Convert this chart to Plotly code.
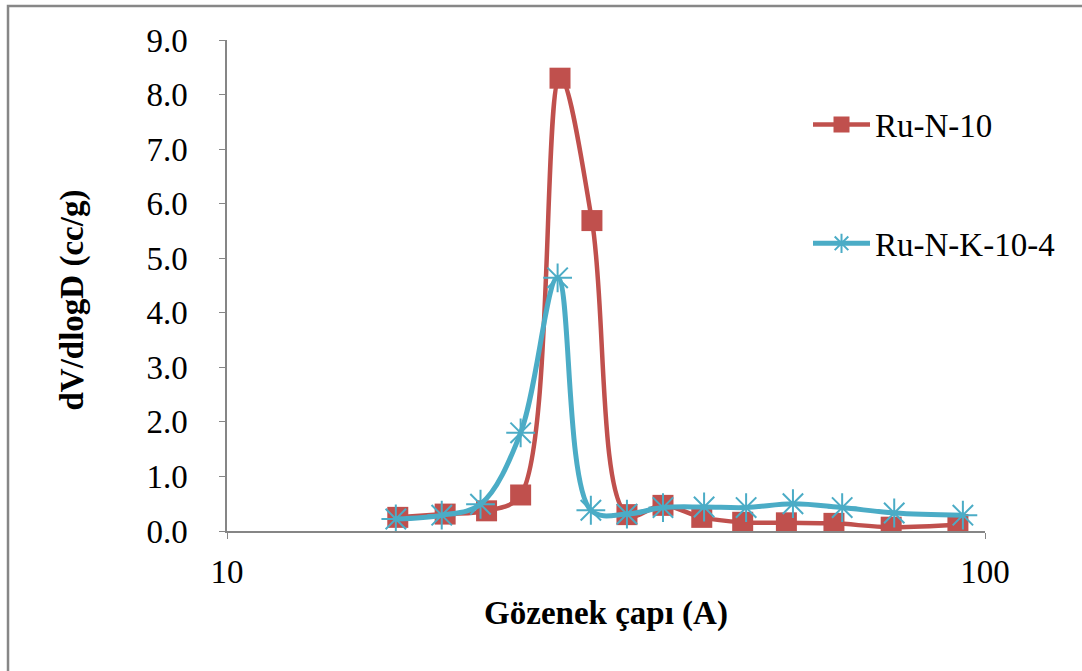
import plotly.graph_objects as go

# Pore size distribution (BJH), dV/dlogD vs pore diameter
ru_n_10_d = [16.8, 19.4, 22.0, 24.4, 27.5, 30.3, 33.7, 37.6, 42.3, 47.9, 54.7, 63.2, 75.2, 92.1]
ru_n_10_v = [0.25, 0.31, 0.37, 0.66, 8.30, 5.69, 0.30, 0.47, 0.25, 0.16, 0.15, 0.14, 0.07, 0.12]

ru_n_k_10_4_d = [16.7, 19.2, 21.6, 24.4, 27.3, 30.2, 33.7, 37.6, 42.6, 48.4, 55.8, 64.8, 75.9, 93.5]
ru_n_k_10_4_v = [0.22, 0.29, 0.49, 1.80, 4.64, 0.38, 0.31, 0.43, 0.44, 0.43, 0.50, 0.43, 0.33, 0.29]

y_ticks = [0, 1, 2, 3, 4, 5, 6, 7, 8, 9]
y_tick_text = ["0.0", "1.0", "2.0", "3.0", "4.0", "5.0", "6.0", "7.0", "8.0", "9.0"]
x_ticks = [10, 100]
x_tick_text = ["10", "100"]

RED = "#C0504D"
BLUE = "#4BACC6"
FONT = "Liberation Serif"
FS = 33

fig = go.Figure()

fig.add_trace(go.Scatter(
    x=ru_n_10_d, y=ru_n_10_v, name="Ru-N-10",
    mode="lines+markers", legendgroup="a",
    line=dict(color=RED, width=4.5, shape="spline", smoothing=1.0),
    marker=dict(symbol="square", size=21, color=RED),
))
fig.add_trace(go.Scatter(
    x=ru_n_k_10_4_d, y=ru_n_k_10_4_v, name="Ru-N-K-10-4",
    mode="lines+markers", legendgroup="b",
    line=dict(color=BLUE, width=5, shape="spline", smoothing=1.0),
    marker=dict(symbol="asterisk-open", size=24, color=BLUE,
                line=dict(color=BLUE, width=2)),
))

axis_line = "#868686"

fig.update_layout(
    width=1082, height=671,
    margin=dict(l=227, r=97, t=40, b=140),
    paper_bgcolor="white", plot_bgcolor="white",
    font=dict(family=FONT, size=FS, color="black"),
    showlegend=True,
    legend=dict(
        x=0.7665, xanchor="left", y=0.885, yanchor="top",
        font=dict(family=FONT, size=FS, color="black"),
        tracegroupgap=73, itemwidth=57,
        bgcolor="rgba(0,0,0,0)",
    ),
    xaxis=dict(
        type="log", range=[1, 2],
        tickvals=x_ticks, ticktext=x_tick_text,
        showgrid=False, zeroline=False,
        showline=True, linecolor=axis_line, linewidth=1.5,
        ticks="outside", ticklen=6, tickcolor=axis_line,
        ticklabelstandoff=5,
        title=dict(text="<b>Gözenek çapı (A)</b>", standoff=12,
                   font=dict(family=FONT, size=FS)),
    ),
    yaxis=dict(
        range=[0, 9],
        tickvals=y_ticks, ticktext=y_tick_text,
        showgrid=False, zeroline=False,
        showline=True, linecolor=axis_line, linewidth=1.5,
        ticks="outside", ticklen=6, tickcolor=axis_line,
        ticklabelstandoff=25,
    ),
    annotations=[dict(
        text="<b>dV/dlogD (cc/g)</b>", textangle=-90,
        xref="paper", yref="paper", x=(73 - 227) / 758, y=(531 - 301) / 490,
        xanchor="center", yanchor="middle", showarrow=False,
        font=dict(family=FONT, size=FS, color="black"),
    )],
)

# chart area frame (top and left edges visible)
fig.add_shape(
    type="rect", xref="paper", yref="paper",
    x0=-0.2889, x1=1.2, y0=-0.4, y1=1.0695,
    line=dict(color="#878787", width=2.5), layer="below",
)

fig.write_html("out.html")
